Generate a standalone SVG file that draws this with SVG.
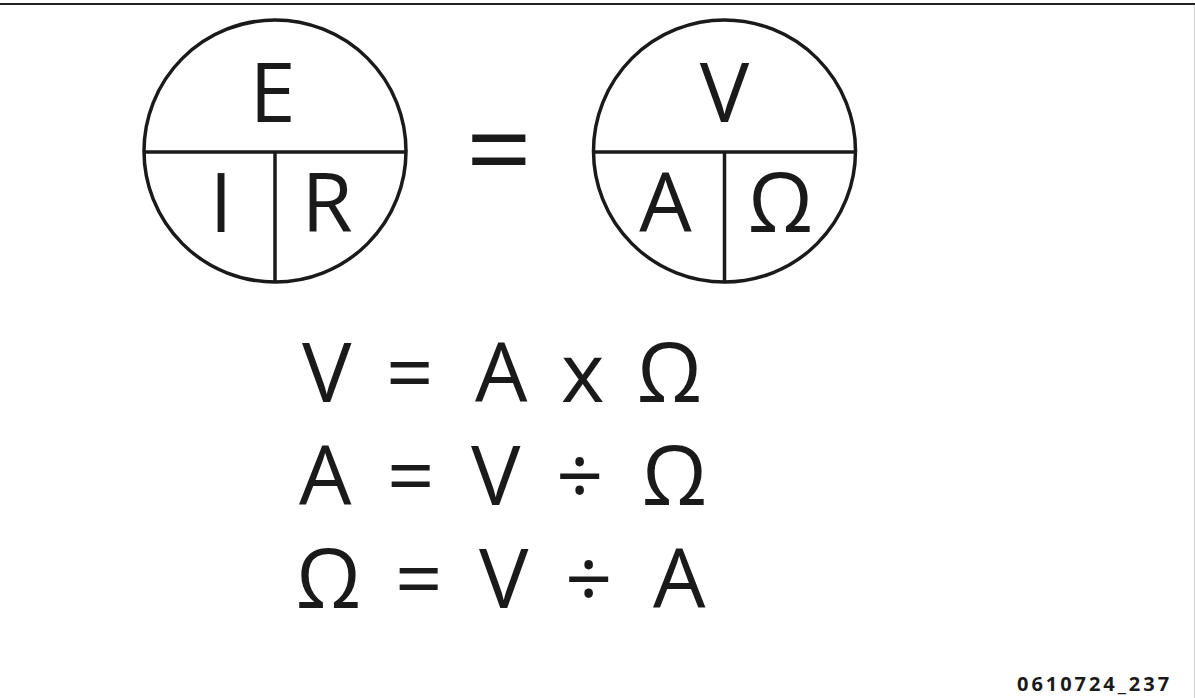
<svg xmlns="http://www.w3.org/2000/svg" width="1195" height="698" viewBox="0 0 1195 698">
<style>
.ln{stroke:#1a1a1a;stroke-width:3.5;fill:none}
.t{font-family:"Open Sans","Noto Sans","Liberation Sans",sans-serif;font-size:83px;fill:#1a1a1a;text-anchor:middle}
.eq{font-family:"Open Sans","Noto Sans","Liberation Sans",sans-serif;font-size:83px;fill:#1a1a1a}
.id{font-family:"Open Sans","Noto Sans","Liberation Sans",sans-serif;font-size:20px;font-weight:bold;fill:#1a1a1a;letter-spacing:2.95px}
</style>
<rect x="0" y="0" width="1195" height="698" fill="#ffffff"/>
<rect x="0" y="3" width="1195" height="2" fill="#222"/>
<line x1="1194.5" y1="5" x2="1194.5" y2="698" stroke="#d4d4d4" stroke-width="1"/>
<g id="circle-EIR">
<circle class="ln" cx="275" cy="151" r="131"/>
<line class="ln" x1="144" y1="152" x2="406" y2="152"/>
<line class="ln" x1="275" y1="152" x2="275" y2="282"/>
<text class="t" x="272.5" y="122">E</text>
<text class="t" x="221" y="232">I</text>
<text class="t" x="327" y="232">R</text>
</g>
<g id="equals-sign">
<text class="t" x="499" y="190" style="font-size:116px">=</text>
</g>
<g id="circle-VAO">
<circle class="ln" cx="724.5" cy="151" r="131"/>
<line class="ln" x1="593.5" y1="152" x2="855.5" y2="152"/>
<line class="ln" x1="724.5" y1="152" x2="724.5" y2="282"/>
<text class="t" x="724.5" y="122">V</text>
<text class="t" x="665.5" y="232">A</text>
<text class="t" x="780.5" y="232">Ω</text>
</g>
<g id="equations">
<text class="eq" x="302 330 386 420 475 530 561 610 637" y="402">V = A x Ω</text>
<text class="eq" x="299 350 387 440 471 530 556 620 642" y="505">A = V ÷ Ω</text>
<text class="eq" x="296 360 395 460 479 540 565 640 653" y="608">Ω = V ÷ A</text>
</g>
<g id="label">
<text class="id" x="1017" y="691">0610724_237</text>
</g>
</svg>
